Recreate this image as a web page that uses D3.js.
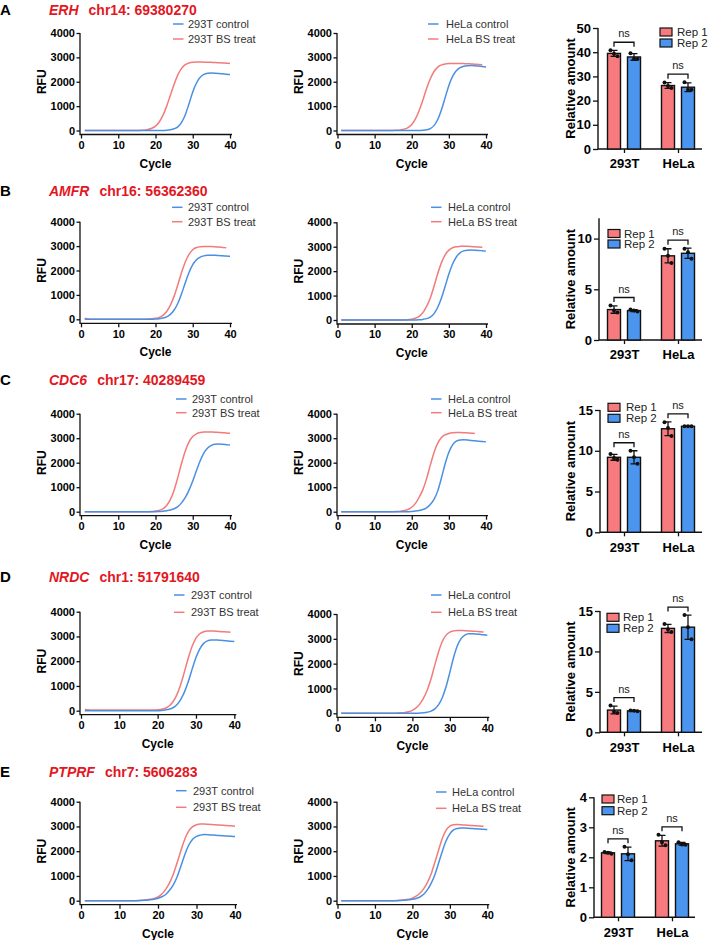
<!DOCTYPE html>
<html><head><meta charset="utf-8">
<script src="https://cdn.jsdelivr.net/npm/d3@7"></script>
<style>body{margin:0;background:#fff}svg{display:block}text{font-family:Arial,"Liberation Sans",sans-serif}</style>
</head><body><svg id="c" width="708" height="940"></svg>
<script>
// ---------- DATA ----------
const panelLetters = ["A","B","C","D","E"];
const genes = ["ERH","AMFR","CDC6","NRDC","PTPRF"];
const loci = ["chr14: 69380270","chr16: 56362360","chr17: 40289459","chr1: 51791640","chr7: 5606283"];
const cellLines = ["293T","HeLa"];
const reps = ["Rep 1","Rep 2"];
const cycleTicks = [0,10,20,30,40];
const rfuTicks = [0,1000,2000,3000,4000];

// RFU per cycle, starting at cycle 1
const erh293tControl = [0,0,0,0,0,0,0,0,0,0, 0,0,0,0,0,0,0,0,0,0, 0,0,10,30,70,150,330,650,1100,1580, 1950,2180,2300,2345,2355,2350,2340,2325,2310,2295];
const erh293tBS      = [0,0,0,0,0,0,0,0,0,0, 0,0,0,0,0,5,15,40,90,180, 350,620,1000,1450,1900,2280,2550,2700,2770,2800, 2810,2810,2805,2800,2795,2790,2780,2770,2760,2750];
const erhHelaControl = [0,0,0,0,0,0,0,0,0,0, 0,0,0,0,0,0,0,0,0,0, 0,0,10,30,80,200,450,850,1350,1850, 2220,2450,2580,2640,2660,2665,2660,2645,2625,2600];
const erhHelaBS      = [0,0,0,0,0,0,0,0,0,0, 0,0,0,0,5,10,25,55,120,250, 480,820,1250,1720,2120,2420,2600,2690,2730,2745, 2750,2750,2750,2745,2740,2730,2720,2710,2700];

const amfr293tControl = [0,0,0,0,0,0,0,0,0,0, 0,0,0,0,0,0,0,0,0,10, 25,50,100,200,380,660,1050,1500,1920,2240, 2440,2550,2600,2620,2625,2620,2610,2600,2590,2580];
const amfr293tBS      = [40,15,5,5,5,5,5,5,5,5, 5,5,5,5,5,5,5,10,20,40, 80,160,320,580,950,1420,1920,2350,2660,2850, 2940,2975,2985,2985,2980,2970,2960,2945,2930];
const amfrHelaControl = [0,0,0,0,0,0,0,0,0,0, 0,0,0,0,0,0,0,0,0,0, 0,10,25,55,120,260,520,900,1380,1880, 2290,2580,2750,2830,2860,2865,2860,2850,2835,2820];
const amfrHelaBS      = [0,0,0,0,0,0,0,0,0,0, 0,0,0,0,0,0,0,0,15,35, 70,150,300,560,900,1380,1900,2350,2670,2860, 2960,3000,3015,3020,3015,3005,2995,2985,2975];

const cdc6293tControl = [0,0,0,0,0,0,0,0,0,0, 0,0,0,0,0,0,0,0,0,0, 10,20,40,70,120,210,360,580,880,1250, 1680,2080,2400,2600,2710,2755,2760,2750,2735,2720];
const cdc6293tBS      = [0,0,0,0,0,0,0,0,0,0, 0,0,0,0,0,0,0,0,10,25, 55,120,250,500,880,1400,1980,2480,2850,3070, 3180,3230,3250,3255,3250,3245,3235,3225,3215,3200];
const cdc6HelaControl = [0,0,0,0,0,0,0,0,0,0, 0,0,0,0,0,0,0,0,0,10, 25,50,90,160,290,500,850,1380,1960,2430, 2730,2880,2930,2940,2930,2910,2895,2880,2865,2850];
const cdc6HelaBS      = [0,0,0,0,0,0,0,0,0,0, 0,0,0,0,0,10,20,45,90,180, 340,590,900,1350,1900,2420,2800,3030,3140,3195, 3220,3230,3230,3225,3215,3205,3195];

const nrdc293tControl = [0,0,0,0,0,0,0,0,0,0, 0,0,0,0,0,0,0,0,0,0, 10,30,60,120,240,450,760,1180,1680,2150, 2500,2720,2820,2855,2860,2850,2840,2825,2810,2800];
const nrdc293tBS      = [50,35,25,25,25,25,25,25,25,25, 25,25,25,25,25,25,25,25,25,35, 55,100,190,360,640,1050,1580,2130,2600,2930, 3110,3190,3220,3225,3215,3200,3190,3180,3170];
const nrdcHelaControl = [0,0,0,0,0,0,0,0,0,0, 0,0,0,0,0,0,0,0,0,0, 0,10,20,45,90,180,350,640,1080,1650, 2250,2720,3010,3150,3200,3205,3195,3180,3160,3140];
const nrdcHelaBS      = [0,0,0,0,0,0,0,0,0,0, 0,0,0,0,0,10,20,35,65,120, 220,380,620,950,1400,1950,2480,2900,3150,3270, 3320,3340,3340,3330,3320,3310,3300,3285,3275];

const ptprf293tControl = [0,0,0,0,0,0,0,0,0,0, 0,0,0,0,0,10,20,35,60,100, 160,250,420,650,980,1420,1880,2250,2480,2600, 2650,2670,2665,2655,2645,2630,2620,2610,2600,2590];
const ptprf293tBS      = [0,0,0,0,0,0,0,0,0,0, 0,0,0,0,10,20,35,60,95,150, 270,460,720,1080,1550,2050,2500,2820,2990,3070, 3100,3095,3085,3075,3065,3055,3045,3035,3025,3010];
const ptprfHelaControl = [0,0,0,0,0,0,0,0,0,0, 0,0,0,0,0,0,10,20,35,55, 90,150,260,440,700,1050,1520,2000,2420,2700, 2860,2920,2940,2935,2925,2915,2905,2895,2885,2875];
const ptprfHelaBS      = [0,0,0,0,0,0,0,0,0,0, 0,0,0,0,0,10,20,35,60,100, 180,300,480,730,1080,1550,2050,2520,2850,3010, 3070,3080,3070,3055,3045,3035,3025,3015,3005];

// Relative amount: [cell line][rep] -> three replicate points
const erhBars   = [[[40.8,38.3,39.4],[39.6,37.2,37.3]], [[27.5,25.2,26.0],[27.6,24.5,24.5]]];
const amfrBars  = [[[3.4,2.7,2.9],[3.0,2.8,2.9]],       [[9.0,7.6,8.3],[9.0,8.0,8.65]]];
const cdc6Bars  = [[[9.6,8.9,9.1],[10.0,8.4,9.2]],      [[13.5,11.8,12.8],[13.0,13.0,13.0]]];
const nrdcBars  = [[[3.3,2.4,2.55],[2.7,2.6,2.65]],     [[13.4,12.4,12.75],[14.5,11.5,13.0]]];
const ptprfBars = [[[2.18,2.12,2.15],[2.35,1.9,2.1]],   [[2.75,2.4,2.5],[2.5,2.42,2.43]]];
const barMax   = [50,12,15,15,4];
const barTicks = [[0,10,20,30,40,50],[0,5,10],[0,5,10,15],[0,5,10,15],[0,1,2,3,4]];

const curveSets = [
  [[erh293tControl,erh293tBS],[erhHelaControl,erhHelaBS]],
  [[amfr293tControl,amfr293tBS],[amfrHelaControl,amfrHelaBS]],
  [[cdc6293tControl,cdc6293tBS],[cdc6HelaControl,cdc6HelaBS]],
  [[nrdc293tControl,nrdc293tBS],[nrdcHelaControl,nrdcHelaBS]],
  [[ptprf293tControl,ptprf293tBS],[ptprfHelaControl,ptprfHelaBS]]
];
const barSets = [erhBars,amfrBars,cdc6Bars,nrdcBars,ptprfBars];

// ---------- LAYOUT ----------
const rows = [
 {titleY:14.5,
  left:{ax:80,x0:81,x40:230,y4:33,y0:130.5,legX:173,legTx:188,legY:[24,39]},
  mid:{ax:337,x0:337.5,x40:486,y4:33,y0:130.5,legX:428,legTx:446,legY:[24,39]},
  bar:{ax:598,y0:149,yTop:28,c:[624,678],xEnd:702,legX:660,legTx:677,legY:[32,43]}},
 {titleY:196,
  left:{ax:80,x0:81,x40:230,y4:221.7,y0:319.3,legX:172,legTx:188,legY:[207.3,221.7]},
  mid:{ax:337,x0:337.5,x40:486,y4:222.3,y0:320,legX:431,legTx:448,legY:[207.3,221.7]},
  bar:{ax:599,y0:340,yTop:218.3,c:[624,678],xEnd:702,legX:608,legTx:624,legY:[233.5,244]}},
 {titleY:385,
  left:{ax:80,x0:81,x40:230,y4:413.7,y0:511.7,legX:176,legTx:192,legY:[399,412.7]},
  mid:{ax:337,x0:337.5,x40:486,y4:413.7,y0:511.7,legX:431,legTx:448,legY:[399,412.7]},
  bar:{ax:600,y0:532.3,yTop:410,c:[624,678],xEnd:702,legX:608,legTx:626,legY:[407.3,418.3]}},
 {titleY:582,
  left:{ax:80,x0:81,x40:234.3,y4:611.7,y0:710.7,legX:174,legTx:191,legY:[595,612.3]},
  mid:{ax:337,x0:337.5,x40:487.3,y4:614,y0:713.3,legX:431,legTx:448,legY:[595,612.3]},
  bar:{ax:600,y0:732.3,yTop:611,c:[624,678],xEnd:702,legX:607,legTx:623,legY:[617.3,628.3]}},
 {titleY:777,
  left:{ax:80,x0:81,x40:235,y4:801.7,y0:900.7,legX:176,legTx:193,legY:[790.7,807.3]},
  mid:{ax:337,x0:337.5,x40:487.3,y4:801.7,y0:900.7,legX:436,legTx:452,legY:[792,808.3]},
  bar:{ax:594,y0:917.3,yTop:797.3,c:[618,672],xEnd:695,legX:602,legTx:617,legY:[799,810.7]}}
];

const BLUE="#4a90e2", RED="#f27b7b", TITLE_RED="#e3171f";
const BAR_COLORS=["#f77b7e","#4b95ee"];
const AX="#111";

const svg = d3.select("#c");
svg.append("rect").attr("width",708).attr("height",940).attr("fill","#fff");

function styleAxis(sel, size, bold){
  sel.select(".domain").remove();
  sel.selectAll(".tick line").attr("stroke",AX).attr("stroke-width",1.3);
  sel.selectAll(".tick text").attr("fill","#000").style("font-size",size+"px")
     .style("font-weight",bold?"bold":"normal").style("font-family","Arial, 'Liberation Sans', sans-serif");
}

function curvePanel(L, pair, cell){
  const g = svg.append("g");
  const x = d3.scaleLinear().domain([0,40]).range([L.x0,L.x40]);
  const y = d3.scaleLinear().domain([0,4000]).range([L.y0,L.y4]);
  const yb = L.y0 + 4;
  const xa = g.append("g").attr("transform",`translate(0,${yb})`)
    .call(d3.axisBottom(x).tickValues(cycleTicks).tickSize(4).tickPadding(2.5).tickFormat(d3.format("d")));
  styleAxis(xa, 11, true);
  const ya = g.append("g").attr("transform",`translate(${L.ax},0)`)
    .call(d3.axisLeft(y).tickValues(rfuTicks).tickSize(3.5).tickPadding(1.5).tickFormat(d3.format("d")));
  styleAxis(ya, 11, true);
  g.append("path").attr("d",`M${L.ax},${L.y4}V${yb}H${L.x40+2}`).attr("fill","none").attr("stroke",AX).attr("stroke-width",1.3);
  const line = d3.line().x((d,i)=>x(i+1)).y(d=>y(d)).curve(d3.curveMonotoneX);
  const colors=[BLUE,RED];
  [1,0].forEach(k=>{
    g.append("path").datum(pair[k]).attr("d",line).attr("fill","none").attr("stroke",colors[k]).attr("stroke-width",1.5);
  });
  const labels=[cell+" control", cell+" BS treat"];
  labels.forEach((t,k)=>{
    g.append("line").attr("x1",L.legX).attr("x2",L.legX+10.5).attr("y1",L.legY[k]).attr("y2",L.legY[k])
      .attr("stroke",colors[k]).attr("stroke-width",1.5);
    g.append("text").attr("x",L.legTx).attr("y",L.legY[k]+4).attr("fill","#333").style("font-size","11px").text(t);
  });
  g.append("text").attr("x",(L.x0+L.x40)/2).attr("y",L.y0+37).attr("text-anchor","middle")
    .style("font-size","12px").style("font-weight","bold").text("Cycle");
  g.append("text").attr("transform",`translate(${L.ax-38.5},${(L.y0+L.y4)/2}) rotate(-90)`)
    .attr("text-anchor","middle").attr("dy","0.35em").style("font-size","12px").style("font-weight","bold").text("RFU");
}

function barPanel(L, data, max, ticks){
  const g = svg.append("g");
  const x = d3.scalePoint().domain(cellLines).range(L.c);
  const xr = d3.scaleBand().domain(reps).range([-20,20]).paddingInner(0.35).paddingOuter(0.175);
  const y = d3.scaleLinear().domain([0,max]).range([L.y0,L.yTop]);
  const ya = g.append("g").attr("transform",`translate(${L.ax},0)`)
    .call(d3.axisLeft(y).tickValues(ticks).tickSize(5).tickPadding(2).tickFormat(d3.format("d")));
  styleAxis(ya, 13, true);
  const xa = g.append("g").attr("transform",`translate(0,${L.y0})`)
    .call(d3.axisBottom(x).tickSize(4).tickPadding(6));
  styleAxis(xa, 13, true);
  g.append("path").attr("d",`M${L.ax},${L.yTop}V${L.y0}H${L.xEnd}`).attr("fill","none").attr("stroke",AX).attr("stroke-width",1.4);
  const jitter=[-3.5,3.5,0];
  cellLines.forEach((cl,ci)=>{
    const tops=[];
    reps.forEach((r,ri)=>{
      const pts=data[ci][ri];
      const m=d3.mean(pts), sd=d3.deviation(pts)||0;
      const bx=x(cl)+xr(r), bw=xr.bandwidth(), cx=bx+bw/2;
      g.append("rect").attr("x",bx).attr("y",y(m)).attr("width",bw).attr("height",y(0)-y(m))
        .attr("fill",BAR_COLORS[ri]).attr("stroke","#111").attr("stroke-width",1.4);
      g.append("path").attr("d",`M${cx},${y(m-sd)}V${y(m+sd)}M${cx-3.5},${y(m+sd)}H${cx+3.5}M${cx-3.5},${y(m-sd)}H${cx+3.5}`)
        .attr("stroke","#111").attr("stroke-width",1.3).attr("fill","none");
      pts.forEach((p,pi)=>{
        g.append("circle").attr("cx",cx+jitter[pi]).attr("cy",y(p)).attr("r",2).attr("fill","#111");
      });
      tops.push({cx, top:Math.max(m+sd, d3.max(pts))});
    });
    const by = y(d3.max(tops,d=>d.top)) - 8;
    g.append("path").attr("d",`M${tops[0].cx},${by+4.5}V${by}H${tops[1].cx}V${by+4.5}`)
      .attr("fill","none").attr("stroke","#111").attr("stroke-width",1.3);
    g.append("text").attr("x",(tops[0].cx+tops[1].cx)/2).attr("y",by-5).attr("text-anchor","middle")
      .style("font-size","11px").attr("fill","#222").text("ns");
  });
  reps.forEach((r,ri)=>{
    g.append("rect").attr("x",L.legX).attr("y",L.legY[ri]-4).attr("width",12).attr("height",8)
      .attr("fill",BAR_COLORS[ri]).attr("stroke","#111").attr("stroke-width",1.2);
    g.append("text").attr("x",L.legTx).attr("y",L.legY[ri]+4).style("font-size","11.5px").attr("fill","#222").text(r);
  });
  g.append("text").attr("transform",`translate(570.5,${(L.y0+L.yTop)/2}) rotate(-90)`)
    .attr("text-anchor","middle").attr("dy","0.35em").style("font-size","13px").style("font-weight","bold").text("Relative amount");
}

rows.forEach((R,i)=>{
  svg.append("text").attr("x",0).attr("y",R.titleY).style("font-size","15px").style("font-weight","bold").text(panelLetters[i]);
  const t = svg.append("text").attr("x",49).attr("y",R.titleY).attr("fill",TITLE_RED).style("font-size","14px").style("font-weight","bold");
  t.append("tspan").style("font-style","italic").text(genes[i]);
  t.append("tspan").attr("dx",10).text(loci[i]);
  curvePanel(R.left, curveSets[i][0], cellLines[0]);
  curvePanel(R.mid, curveSets[i][1], cellLines[1]);
  barPanel(R.bar, barSets[i], barMax[i], barTicks[i]);
});
</script></body></html>
